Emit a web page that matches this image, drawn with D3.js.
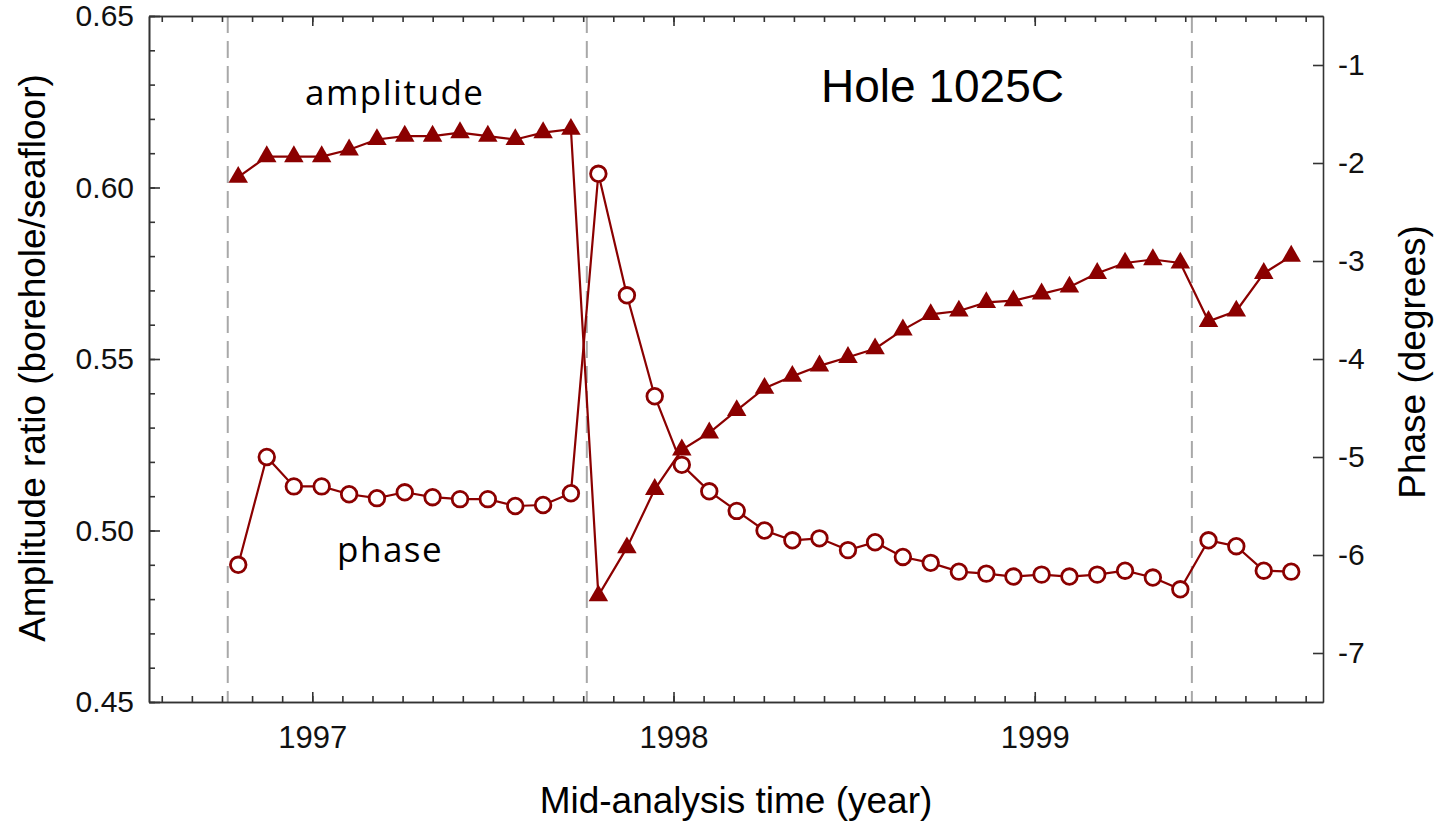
<!DOCTYPE html>
<html>
<head>
<meta charset="utf-8">
<script src="https://cdn.jsdelivr.net/npm/d3@7"></script>
<style>
  body { margin: 0; background: #fff; }
  svg { display: block; }
  .axis text { font-family: "Liberation Sans", Arial, sans-serif; font-size: 30px; fill: #111; }
  .axis.xaxis text { font-size: 31px; }
  .axis path, .axis line { stroke: #333; stroke-width: 1.6px; }
</style>
</head>
<body>
<script>
// mid-analysis times (decimal year)
var times = [1996.795, 1996.874, 1996.949, 1997.026, 1997.102, 1997.179, 1997.256, 1997.333,
  1997.409, 1997.486, 1997.562, 1997.639, 1997.716, 1997.792, 1997.871, 1997.948, 1998.023,
  1998.099, 1998.175, 1998.252, 1998.329, 1998.404, 1998.483, 1998.558, 1998.635, 1998.712,
  1998.790, 1998.866, 1998.941, 1999.019, 1999.096, 1999.173, 1999.250, 1999.327, 1999.403,
  1999.481, 1999.558, 1999.634, 1999.710];

// amplitude ratio (borehole/seafloor)
var amplitude = [0.603, 0.609, 0.609, 0.609, 0.611, 0.614, 0.615, 0.615, 0.616, 0.615, 0.614,
  0.616, 0.617, 0.481, 0.495, 0.512, 0.5235, 0.5285, 0.535, 0.5415, 0.545, 0.548, 0.5505,
  0.553, 0.5585, 0.563, 0.564, 0.5665, 0.567, 0.569, 0.571, 0.575, 0.578, 0.579, 0.578,
  0.561, 0.564, 0.575, 0.580];

// phase (degrees)
var phase = [-6.10, -5.00, -5.30, -5.30, -5.38, -5.42, -5.36, -5.41, -5.43, -5.43, -5.50,
  -5.49, -5.37, -2.11, -3.35, -4.38, -5.08, -5.35, -5.55, -5.75, -5.85, -5.83, -5.95, -5.87,
  -6.02, -6.08, -6.17, -6.19, -6.22, -6.20, -6.22, -6.20, -6.16, -6.23, -6.35, -5.85, -5.91,
  -6.16, -6.17];

// dashed vertical markers
var breaks = [1996.766, 1997.760, 1999.435];

var yearTicks = [1997, 1998, 1999];
var ampTicks = [0.45, 0.50, 0.55, 0.60, 0.65];
var phaseTicks = [-7, -6, -5, -4, -3, -2, -1];

var width = 1440, height = 825;
var margin = { top: 16, right: 117, bottom: 123, left: 149 };
var color = '#8b0000';

var svg = d3.select('body').append('svg')
  .attr('width', width)
  .attr('height', height);

var x = d3.scaleLinear().domain([1996.548, 1999.798]).range([margin.left, width - margin.right]);
var yAmp = d3.scaleLinear().domain([0.45, 0.65]).range([height - margin.bottom, margin.top]);
var yPh = d3.scaleLinear().domain([-7.5, -0.5]).range([height - margin.bottom, margin.top]);

var x0 = margin.left, x1 = width - margin.right;
var y0 = height - margin.bottom, y1 = margin.top;

// monthly minor ticks, 0.01 minor ticks
var monthTicks = d3.range(7, 46).map(m => 1996 + m / 12);
var ampMinor = d3.range(45, 66).map(v => v / 100);

// dashed lines
svg.append('g')
  .selectAll('line')
  .data(breaks)
  .join('line')
  .attr('x1', d => x(d)).attr('x2', d => x(d))
  .attr('y1', y1).attr('y2', y0)
  .attr('stroke', '#a8a8a8')
  .attr('stroke-width', 2)
  .attr('stroke-dasharray', '17,8');

// axes
svg.append('g').attr('class', 'axis')
  .attr('transform', 'translate(0,' + y0 + ')')
  .call(d3.axisBottom(x).tickValues(monthTicks).tickFormat('').tickSize(-6).tickSizeOuter(0));
svg.append('g').attr('class', 'axis xaxis')
  .attr('transform', 'translate(0,' + y0 + ')')
  .call(d3.axisBottom(x).tickValues(yearTicks).tickFormat(d3.format('d')).tickSize(-10).tickSizeOuter(0).tickPadding(24));
svg.append('g').attr('class', 'axis')
  .attr('transform', 'translate(0,' + y1 + ')')
  .call(d3.axisTop(x).tickValues(monthTicks).tickFormat('').tickSize(-6).tickSizeOuter(0));
svg.append('g').attr('class', 'axis')
  .attr('transform', 'translate(0,' + y1 + ')')
  .call(d3.axisTop(x).tickValues(yearTicks).tickFormat('').tickSize(-10).tickSizeOuter(0));

svg.append('g').attr('class', 'axis')
  .attr('transform', 'translate(' + x0 + ',0)')
  .call(d3.axisLeft(yAmp).tickValues(ampMinor).tickFormat('').tickSize(-6).tickSizeOuter(0));
svg.append('g').attr('class', 'axis')
  .attr('transform', 'translate(' + x0 + ',0)')
  .call(d3.axisLeft(yAmp).tickValues(ampTicks).tickFormat(d3.format('.2f')).tickSize(-11).tickSizeOuter(0).tickPadding(15));

svg.append('g').attr('class', 'axis')
  .attr('transform', 'translate(' + x1 + ',0)')
  .call(d3.axisRight(yPh).tickValues(phaseTicks).tickFormat(d3.format('d')).tickSize(-10).tickSizeOuter(0).tickPadding(15));

// make the minus signs plain hyphens like the original
svg.selectAll('.axis text').text(function () { return this.textContent.replace('\u2212', '-'); });

// lines
var ampLine = d3.line().x((d, i) => x(times[i])).y(d => yAmp(d));
var phLine = d3.line().x((d, i) => x(times[i])).y(d => yPh(d));

svg.append('path')
  .datum(amplitude)
  .attr('d', ampLine)
  .attr('fill', 'none')
  .attr('stroke', color)
  .attr('stroke-width', 2.2);

svg.append('g')
  .selectAll('path')
  .data(amplitude)
  .join('path')
  .attr('d', d3.symbol().type(d3.symbolTriangle).size(165))
  .attr('transform', (d, i) => 'translate(' + x(times[i]) + ',' + yAmp(d) + ')')
  .attr('fill', color);

svg.append('path')
  .datum(phase)
  .attr('d', phLine)
  .attr('fill', 'none')
  .attr('stroke', color)
  .attr('stroke-width', 2.2);

svg.append('g')
  .selectAll('circle')
  .data(phase)
  .join('circle')
  .attr('cx', (d, i) => x(times[i]))
  .attr('cy', d => yPh(d))
  .attr('r', 7.8)
  .attr('fill', '#fff')
  .attr('stroke', color)
  .attr('stroke-width', 2.8);

// axis titles
svg.append('text')
  .attr('x', (x0 + x1) / 2)
  .attr('y', 813)
  .attr('text-anchor', 'middle')
  .style('font-family', '"Liberation Sans", Arial, sans-serif')
  .style('font-size', '37px')
  .text('Mid-analysis time (year)');

svg.append('text')
  .attr('transform', 'translate(45,' + 358 + ') rotate(-90)')
  .attr('text-anchor', 'middle')
  .style('font-family', '"Liberation Sans", Arial, sans-serif')
  .style('font-size', '37px')
  .text('Amplitude ratio (borehole/seafloor)');

svg.append('text')
  .attr('transform', 'translate(1425,' + 362 + ') rotate(-90)')
  .attr('text-anchor', 'middle')
  .style('font-family', '"Liberation Sans", Arial, sans-serif')
  .style('font-size', '37px')
  .text('Phase (degrees)');

// annotations
svg.append('text')
  .attr('x', 305).attr('y', 105)
  .style('font-family', '"Open Sans", sans-serif')
  .style('font-size', '35px')
  .style('letter-spacing', '1.5px')
  .text('amplitude');

svg.append('text')
  .attr('x', 337).attr('y', 562)
  .style('font-family', '"Open Sans", sans-serif')
  .style('font-size', '35px')
  .style('letter-spacing', '1.5px')
  .text('phase');

svg.append('text')
  .attr('x', 821).attr('y', 102)
  .style('font-family', '"Liberation Sans", Arial, sans-serif')
  .style('font-size', '46px')
  .text('Hole 1025C');
</script>
</body>
</html>
